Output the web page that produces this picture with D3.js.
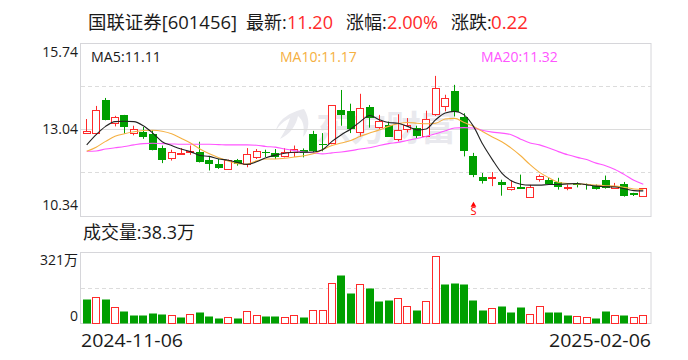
<!DOCTYPE html>
<html><head><meta charset="utf-8">
<script src="https://cdn.jsdelivr.net/npm/d3@7/dist/d3.min.js"></script>
<style>html,body{margin:0;padding:0;background:#fff}svg{display:block}</style>
</head><body><svg id="c" width="688" height="360"></svg>
<script>
// [open, high, low, close]
const candles = [
[12.94,13.36,12.90,12.99],[12.91,13.77,12.87,13.64],[13.96,14.02,13.32,13.32],[13.23,13.46,13.13,13.42],[13.49,13.49,12.90,13.10],
[12.94,13.15,12.85,13.05],[12.96,13.11,12.74,12.81],[12.90,13.01,12.38,12.40],[12.46,12.53,11.98,12.09],[12.14,12.40,12.06,12.34],
[12.27,12.45,12.24,12.30],[12.33,12.53,12.24,12.36],[12.34,12.65,12.00,12.04],[12.09,12.17,11.75,11.96],[11.96,12.11,11.80,11.84],
[11.80,12.09,11.77,12.07],[12.09,12.11,11.90,11.95],[11.94,12.45,11.85,12.26],[12.16,12.42,12.11,12.36],[12.34,12.40,12.17,12.32],
[12.30,12.42,12.11,12.16],[12.19,12.45,12.16,12.32],[12.32,12.53,12.17,12.41],[12.39,12.44,12.16,12.30],[12.90,12.99,12.32,12.37],
[12.59,12.92,12.35,12.57],[12.60,13.79,12.57,13.79],[13.65,14.27,13.15,13.49],[13.62,13.84,12.92,13.06],[12.94,14.15,12.80,13.70],
[13.74,13.80,13.09,13.38],[13.10,13.49,13.05,13.29],[13.18,13.28,12.81,12.81],[12.72,13.51,12.66,13.01],[13.05,13.39,12.94,13.18],
[13.09,13.15,12.76,12.84],[12.83,13.62,12.79,13.36],[13.50,14.71,13.46,14.32],[13.76,14.12,13.60,14.01],[14.24,14.43,13.44,13.58],
[13.43,13.54,12.19,12.35],[12.21,12.30,11.54,11.63],[11.53,11.67,11.34,11.40],[11.52,11.70,11.26,11.53],[11.40,11.46,10.96,11.32],
[11.19,11.44,11.12,11.24],[11.24,11.62,11.19,11.19],[10.94,11.30,10.92,11.24],[11.50,11.62,11.40,11.58],[11.46,11.52,11.33,11.34],
[11.39,11.52,11.15,11.24],[11.22,11.31,11.13,11.24],[11.34,11.38,11.22,11.32],[11.33,11.34,11.15,11.29],[11.27,11.31,11.15,11.19],
[11.45,11.59,11.18,11.19],[11.20,11.36,11.19,11.27],[11.33,11.39,10.93,10.94],[11.05,11.05,10.95,10.99],[10.95,11.20,10.94,11.20]];
const ma5 = [12.55,12.87,13.13,13.28,13.29,13.28,13.15,12.92,12.65,12.53,12.42,12.34,12.22,12.19,12.11,12.07,12.00,11.94,12.02,12.15,
12.23,12.29,12.32,12.32,12.33,12.40,12.66,12.87,13.05,13.28,13.47,13.34,13.25,13.23,13.13,13.02,13.05,13.34,13.55,13.60,
13.49,13.13,12.56,12.09,11.67,11.43,11.32,11.29,11.29,11.31,11.31,11.33,11.34,11.30,11.26,11.24,11.23,11.18,11.12,11.11];
const ma10 = [12.35,12.48,12.66,12.82,12.90,12.96,13.00,13.01,12.98,12.90,12.76,12.61,12.42,12.27,12.15,12.05,11.96,11.95,12.05,12.11,
12.11,12.13,12.17,12.21,12.27,12.40,12.53,12.61,12.69,12.82,12.92,13.02,13.13,13.21,13.25,13.23,13.21,13.23,13.36,13.38,
13.25,13.13,12.96,12.80,12.65,12.45,12.21,11.93,11.69,11.52,11.38,11.34,11.33,11.32,11.29,11.27,11.26,11.22,11.17,11.15];
const ma20 = [12.35,12.36,12.42,12.46,12.50,12.55,12.59,12.60,12.59,12.58,12.57,12.57,12.57,12.57,12.56,12.55,12.55,12.55,12.54,12.50,
12.48,12.42,12.37,12.33,12.30,12.27,12.30,12.33,12.37,12.42,12.46,12.53,12.59,12.63,12.69,12.75,12.82,12.90,12.99,13.08,
13.09,13.08,13.00,12.95,12.92,12.87,12.73,12.61,12.55,12.45,12.34,12.24,12.16,12.09,11.98,11.90,11.78,11.62,11.44,11.32];
const volumes = [108,116,108,71,54,36,36,45,41,35,27,39,50,32,23,26,23,53,35,32,32,26,38,27,57,57,179,217,136,175,
158,99,104,112,75,59,98,301,176,181,176,104,59,66,77,50,72,39,75,50,50,36,30,26,23,54,35,36,26,35];
const volumeUp = [0,1,0,1,0,0,0,0,0,1,0,1,0,0,0,1,0,1,1,0,0,1,1,0,1,1,1,0,0,1,
0,0,0,1,1,0,1,1,0,0,0,0,0,1,0,0,0,1,1,0,0,0,1,1,0,0,1,0,1,1];
const priceTicks = [15.74,13.04,10.34];
const priceGrid = [14.39,13.04,11.69];
const volumeMax = 321;
const dates = ["2024-11-06","2025-02-06"];
const signalIndex = 41;

const RED="#ff2a2a", GREEN="#009f00", LATIN="'Open Sans','Noto Sans CJK SC',sans-serif";
const CJK="'Noto Sans CJK SC',sans-serif", INK="#1a1a1a";
const svg=d3.select("#c");
const x=d3.scaleBand().domain(d3.range(60)).range([82,648]).paddingInner(0.15).paddingOuter(0.075);
const y=d3.scaleLinear().domain([10.34,15.74]).range([215.5,43]);
const yv=d3.scaleLinear().domain([0,volumeMax]).range([323,252]);
const cx=i=>x(i)+x.bandwidth()/2;
const px=v=>Math.round(v)+.5;

function text(t,xx,yy,size,fill,anchor,fam){
  return svg.append("text").attr("x",xx).attr("y",yy).attr("font-size",size).attr("fill",fill)
   .attr("text-anchor",anchor||"start").attr("font-family",fam||LATIN).text(t);
}
// watermark
svg.append("path").attr("fill","#e9e9ee").attr("d","M276 131C278 119 291 112 304 109C310 118 310 130 303 137C305 127 303 120 298 116C296 126 290 134 280 139C285 131 288 125 290 118C284 121 279 125 276 131Z");
svg.append("text").attr("x",316).attr("y",141).attr("font-size",35).attr("font-weight",700).attr("font-family",CJK).attr("fill","#e9e9ee").text("东方财富");

// frames and grid
[[y(15.74),y(10.34)],[yv(volumeMax),yv(0)]].forEach(f=>{
  svg.append("rect").attr("x",80.5).attr("y",px(f[0])).attr("width",570.5).attr("height",Math.round(f[1]-f[0]))
    .attr("fill","none").attr("stroke","#d6d6da").attr("stroke-width",1);
});
svg.selectAll(".pg").data(priceGrid).join("line").attr("x1",81).attr("x2",651)
  .attr("y1",d=>px(y(d))).attr("y2",d=>px(y(d))).attr("stroke","#dcdcdc")
  .attr("stroke-dasharray",(d,i)=>i==1?null:"4,3");
svg.append("line").attr("x1",81).attr("x2",651).attr("y1",px(yv(volumeMax/2))).attr("y2",px(yv(volumeMax/2)))
  .attr("stroke","#dcdcdc").attr("stroke-dasharray","4,3");

// candles
const g=svg.append("g").selectAll("g").data(candles).join("g");
const col=d=>d[3]>=d[0]?RED:GREEN;
g.append("line").attr("x1",(d,i)=>px(cx(i)-.5)).attr("x2",(d,i)=>px(cx(i)-.5))
  .attr("y1",d=>y(d[1])).attr("y2",d=>y(d[2])).attr("stroke",col);
g.append("rect").attr("x",(d,i)=>d[3]>=d[0]?Math.round(x(i))+.5:Math.round(x(i)))
  .attr("y",d=>{const v=Math.round(y(Math.max(d[0],d[3])));return d[3]>=d[0]?v+.5:v;})
  .attr("width",d=>d[3]>=d[0]?7:8)
  .attr("height",d=>Math.max(1,Math.round(Math.abs(y(d[0])-y(d[3])))))
  .attr("fill",d=>d[3]>=d[0]?"#fff":GREEN).attr("stroke",d=>d[3]>=d[0]?RED:"none").attr("stroke-width",1);

// moving averages
const ln=d3.line().x((d,i)=>cx(i)).y(d=>y(d)).curve(d3.curveMonotoneX);
[[ma20,"#ff55ff"],[ma10,"#f5b042"],[ma5,"#222222"]].forEach(s=>{
  svg.append("path").attr("d",ln(s[0])).attr("fill","none").attr("stroke",s[1]).attr("stroke-width",1.1);
});

// signal
const sx=cx(signalIndex);
svg.append("path").attr("d",d3.symbol(d3.symbolTriangle,14)()).attr("transform",`translate(${sx},205)`).attr("fill","#f00");
text("S",sx,215,11,"#f00","middle");

// volume
svg.append("g").selectAll("rect").data(volumes).join("rect")
  .attr("x",(d,i)=>volumeUp[i]?Math.round(x(i))+.5:Math.round(x(i)))
  .attr("y",d=>Math.round(yv(d))+.5)
  .attr("width",(d,i)=>volumeUp[i]?7:8)
  .attr("height",d=>Math.round(yv(0)-yv(d)))
  .attr("fill",(d,i)=>volumeUp[i]?"#fff":GREEN)
  .attr("stroke",(d,i)=>volumeUp[i]?RED:"none");

// text
text("国联证券[601456]",88,29,18,INK).attr("textLength",149).attr("lengthAdjust","spacingAndGlyphs");
text("最新:",246,29,18,INK);
text("11.20",287,29,18,RED).attr("textLength",46).attr("lengthAdjust","spacingAndGlyphs");
text("涨幅:",346,29,18,INK);
text("2.00%",387,29,18,RED).attr("textLength",51).attr("lengthAdjust","spacingAndGlyphs");
text("涨跌:",451,29,18,INK);
text("0.22",491,29,18,RED).attr("textLength",37).attr("lengthAdjust","spacingAndGlyphs");
text("MA5:11.11",91,62,14,INK).attr("textLength",70).attr("lengthAdjust","spacingAndGlyphs");
text("MA10:11.17",280,62,14,"#f5b042");
text("MA20:11.32",481,62,14,"#ff55ff");
text("15.74",78,57,14,INK,"end");
text("13.04",78,134,14,INK,"end");
text("10.34",78,210,14,INK,"end");
text("成交量:38.3万",83,239,18,INK).attr("textLength",112).attr("lengthAdjust","spacingAndGlyphs");
text("321万",78,265,14,INK,"end");
text("0",78,321,14,INK,"end");
text(dates[0],81,347,19,INK).attr("textLength",102).attr("lengthAdjust","spacingAndGlyphs");
text(dates[1],651,347,19,INK,"end").attr("textLength",102).attr("lengthAdjust","spacingAndGlyphs");
</script></body></html>
